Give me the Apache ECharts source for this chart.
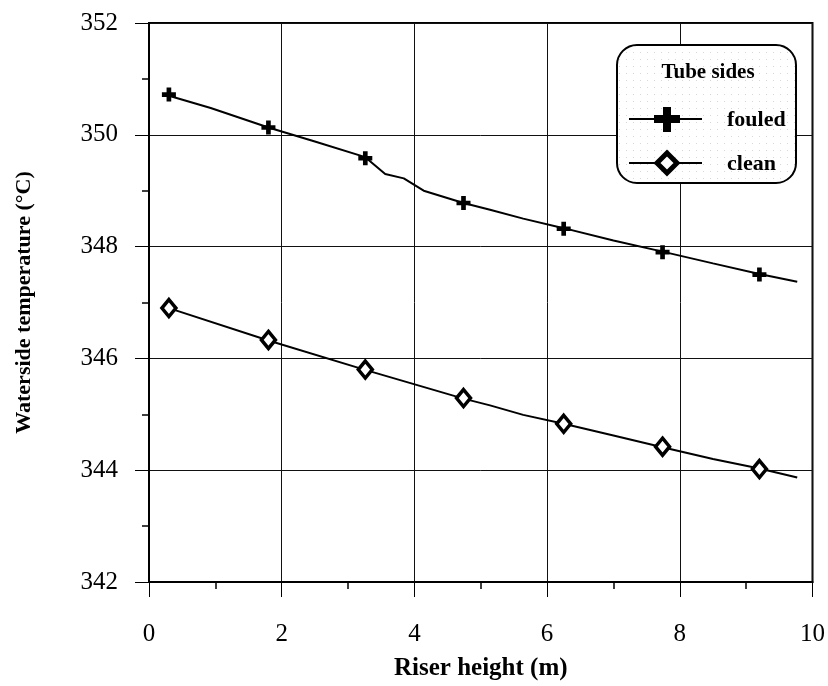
<!DOCTYPE html>
<html>
<head>
<meta charset="utf-8">
<script src="https://cdn.jsdelivr.net/npm/echarts@6/dist/echarts.min.js"></script>
<style>
html,body{margin:0;padding:0;background:#fff;}
#chart{width:828px;height:686px;}
</style>
</head>
<body>
<div id="chart"></div>
<script>
// Marker positions (riser height, m)
var markerX = [0.3, 1.8, 3.26, 4.74, 6.25, 7.74, 9.2];
var fouledMarkers = [350.72, 350.13, 349.58, 348.78, 348.32, 347.90, 347.50];
var cleanMarkers = [346.90, 346.33, 345.80, 345.29, 344.83, 344.42, 344.02];
// Continuous profile lines
var fouledLineX = [0.3, 0.93, 1.8, 2.5, 3.26, 3.56, 3.84, 4.14, 4.74, 5.14, 5.64, 6.25, 7.0, 7.74, 8.5, 9.2, 9.77];
var fouledLineY = [350.70, 350.48, 350.13, 349.88, 349.60, 349.30, 349.22, 349.00, 348.78, 348.66, 348.50, 348.33, 348.11, 347.91, 347.70, 347.51, 347.37];
var cleanLineX = [0.3, 1.8, 3.27, 4.74, 5.14, 5.64, 6.25, 7.0, 7.74, 8.5, 9.2, 9.77];
var cleanLineY = [346.90, 346.32, 345.79, 345.28, 345.16, 344.99, 344.83, 344.62, 344.41, 344.20, 344.03, 343.87];
var legendTitle = 'Tube sides';
var seriesNames = ['fouled', 'clean'];
var xTitle = 'Riser height (m)';
var yTitle = 'Waterside temperature (°C)';

function zip(a, b) { return a.map(function (v, i) { return [v, b[i]]; }); }

var FONT = '"Liberation Serif", "Times New Roman", serif';
var crossPath = 'path://M4,0H8V4H12V8H8V12H4V8H0V4H4Z';

// dotted pattern for legend background
var pc = document.createElement('canvas');
pc.width = 7; pc.height = 7;
var pctx = pc.getContext('2d');
pctx.fillStyle = '#ffffff'; pctx.fillRect(0, 0, 7, 7);
pctx.fillStyle = '#d8d8d8'; pctx.fillRect(3, 3, 1, 1);

var chart = echarts.init(document.getElementById('chart'));

var lx = 667, ly1 = 119, ly2 = 163;
var legendGraphic = [
  { type: 'rect', shape: { x: 617, y: 45, width: 179, height: 138, r: 20 },
    style: { fill: { image: pc, repeat: 'repeat' }, stroke: '#000', lineWidth: 2 }, z: 100 },
  { type: 'text', x: 708, y: 73, style: { text: legendTitle, font: 'bold 21px ' + FONT, fill: '#000', textAlign: 'center', textVerticalAlign: 'middle' }, z: 101 },
  { type: 'line', shape: { x1: 629, y1: ly1, x2: 702, y2: ly1 }, style: { stroke: '#000', lineWidth: 2 }, z: 101 },
  { type: 'polygon', shape: { points: [[lx-4,ly1-12],[lx+4,ly1-12],[lx+4,ly1-4],[lx+13,ly1-4],[lx+13,ly1+4],[lx+4,ly1+4],[lx+4,ly1+13],[lx-4,ly1+13],[lx-4,ly1+4],[lx-13,ly1+4],[lx-13,ly1-4],[lx-4,ly1-4]] },
    style: { fill: '#000' }, z: 102 },
  { type: 'text', x: 727, y: ly1 + 1, style: { text: seriesNames[0], font: 'bold 22px ' + FONT, fill: '#000', textVerticalAlign: 'middle' }, z: 101 },
  { type: 'line', shape: { x1: 629, y1: ly2, x2: 702, y2: ly2 }, style: { stroke: '#000', lineWidth: 2 }, z: 101 },
  { type: 'polygon', shape: { points: [[lx, ly2-10],[lx+10, ly2],[lx, ly2+10],[lx-10, ly2]] },
    style: { fill: '#fff', stroke: '#000', lineWidth: 5, lineJoin: 'miter' }, z: 102 },
  { type: 'text', x: 727, y: ly2 + 1, style: { text: seriesNames[1], font: 'bold 22px ' + FONT, fill: '#000', textVerticalAlign: 'middle' }, z: 101 }
];

chart.setOption({
  animation: false,
  backgroundColor: '#fff',
  grid: { left: 149, right: 15, top: 23, bottom: 104, show: true, borderColor: '#000', borderWidth: 2 },
  xAxis: {
    type: 'value', min: 0, max: 10, interval: 2,
    name: xTitle, nameLocation: 'middle', nameGap: 74,
    nameTextStyle: { fontFamily: FONT, fontWeight: 'bold', fontSize: 25, color: '#000' },
    axisLine: { show: true, lineStyle: { color: '#000', width: 2 } },
    axisTick: { show: true, inside: false, length: 15, lineStyle: { color: '#000', width: 1 } },
    minorTick: { show: true, splitNumber: 2, length: 7, lineStyle: { color: '#000', width: 1.5 } },
    axisLabel: { margin: 40, fontFamily: FONT, fontSize: 25, color: '#000' },
    splitLine: { show: true, lineStyle: { color: '#111', width: 1 } }
  },
  yAxis: {
    type: 'value', min: 342, max: 352, interval: 2,
    name: yTitle, nameLocation: 'middle', nameGap: 114,
    nameTextStyle: { fontFamily: FONT, fontWeight: 'bold', fontSize: 22, color: '#000' },
    axisLine: { show: true, lineStyle: { color: '#000', width: 2 } },
    axisTick: { show: true, inside: false, length: 14, lineStyle: { color: '#000', width: 1 } },
    minorTick: { show: true, splitNumber: 2, length: 7, lineStyle: { color: '#000', width: 1.5 } },
    axisLabel: { margin: 31, fontFamily: FONT, fontSize: 25, color: '#000' },
    splitLine: { show: true, lineStyle: { color: '#111', width: 1 } }
  },
  series: [
    { name: seriesNames[0] + ' line', type: 'line', data: zip(fouledLineX, fouledLineY), showSymbol: false, symbol: 'none',
      lineStyle: { color: '#000', width: 2 }, z: 3 },
    { name: seriesNames[1] + ' line', type: 'line', data: zip(cleanLineX, cleanLineY), showSymbol: false, symbol: 'none',
      lineStyle: { color: '#000', width: 2 }, z: 3 },
    { name: seriesNames[0], type: 'scatter', data: zip(markerX, fouledMarkers), symbol: crossPath, symbolSize: 14,
      itemStyle: { color: '#000', opacity: 1 }, z: 5 },
    { name: seriesNames[1], type: 'scatter', data: zip(markerX, cleanMarkers), symbol: 'diamond', symbolSize: [14, 17],
      itemStyle: { color: '#fff', borderColor: '#000', borderWidth: 3.5, opacity: 1 }, z: 5 }
  ],
  graphic: legendGraphic
});
</script>
</body>
</html>
